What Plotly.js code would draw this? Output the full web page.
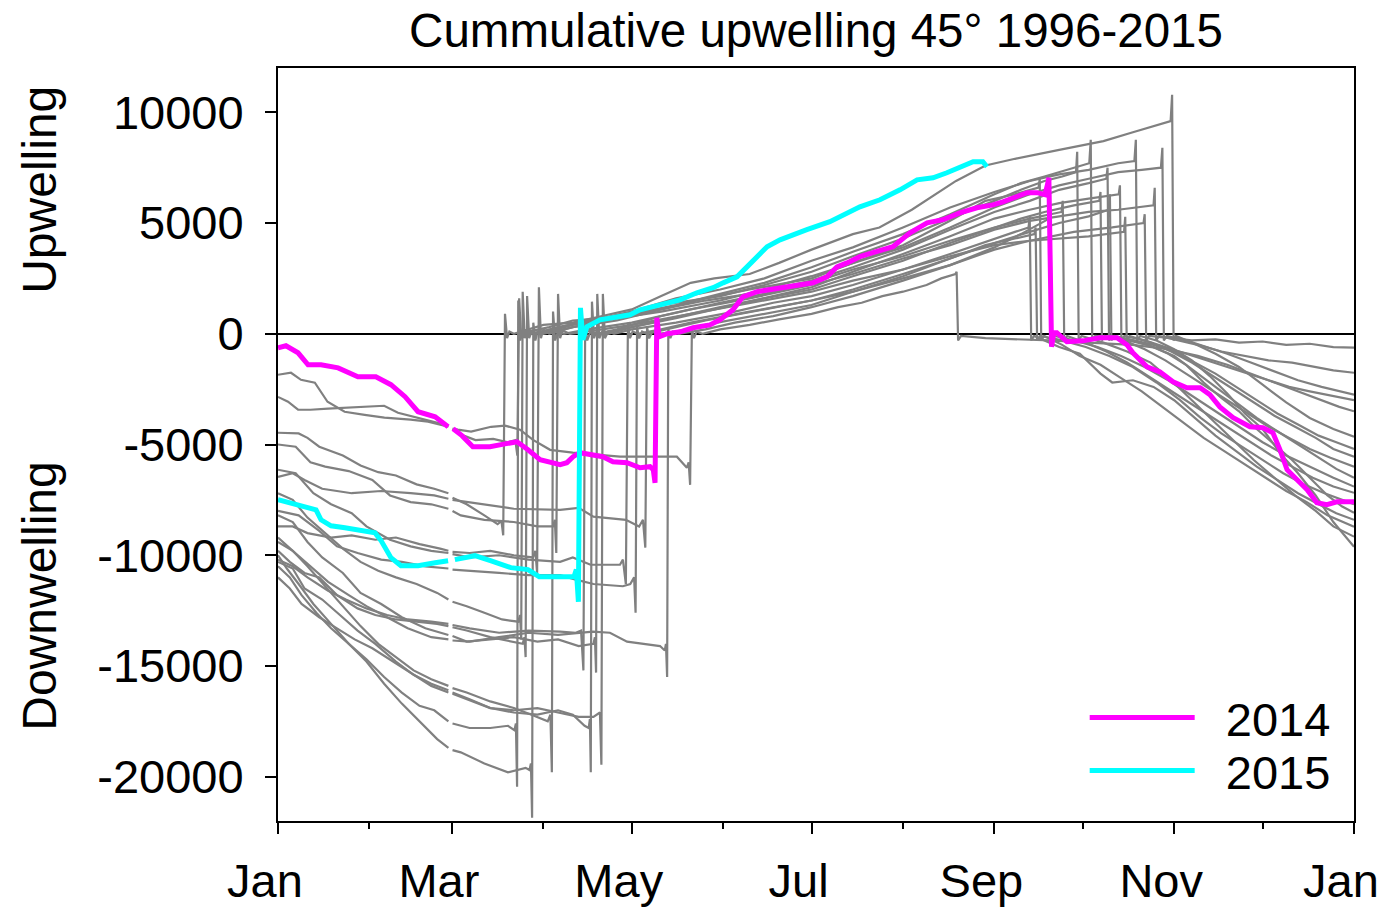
<!DOCTYPE html>
<html>
<head>
<meta charset="utf-8">
<script src="https://cdn.plot.ly/plotly-3.0.1.min.js"></script>
<style>html,body{margin:0;padding:0;background:#fff;}#chart{width:1383px;height:908px;}</style>
</head>
<body>
<div id="chart"></div>
<script>
// x = day of year (0 = 1 Jan), y = cumulative upwelling index; null = missing 29 Feb
const monthTickDays = [0, 59, 120, 181, 243, 304, 365];
const monthTickLabels = ['Jan', 'Mar', 'May', 'Jul', 'Sep', 'Nov', 'Jan'];
const minorTickDays = [31, 90, 151, 212, 273, 334];
const yTickVals = [-20000, -15000, -10000, -5000, 0, 5000, 10000];
const yTickLabels = ['-20000', '-15000', '-10000', '-5000', '0', '5000', '10000'];

const y1996 = [[0,-4470],[7,-4500],[10,-4700],[14,-5100],[22,-5500],[28,-5950],[34,-6250],[40,-6400],[47,-6800],[53,-7000],[57.8,-7200],[58.4,null],[59.2,-7400],[64,-7700],[70,-8200],[74.5,-8600],[75.8,-8450],[76.4,-9100],[77,900],[77.7,-200],[78.5,100],[80,0],[90,400],[100,500],[110,800],[120,1100],[130,1700],[140,2300],[148,2500],[160,2700],[170,3200],[181,3800],[195,4500],[204,4800],[215,5600],[230,6900],[240,7600],[250,7900],[265,8300],[280,8700],[290,9100],[300,9500],[302.8,9600],[303.3,10790],[303.8,-300],[304.6,-100],[310,-400],[318,-900],[326,-1500],[334,-2300],[342,-3100],[350,-3800],[358,-4300],[365,-4650]];
const y1997 = [[0,-10500],[4,-11000],[8,-11800],[13,-12600],[18,-13300],[24,-14000],[30,-14700],[36,-15500],[42,-16200],[48,-16800],[53,-17000],[57.8,-17500],[58.4,null],[59.2,-17600],[65,-17800],[72,-17800],[78,-17700],[80.2,-17900],[80.7,-17600],[81.1,-20450],[81.5,1500],[82.2,-300],[83,200],[85,100],[92,300],[100,600],[110,700],[120,1000],[135,1600],[150,2000],[165,2500],[181,3300],[195,3900],[212,4800],[228,5700],[243,6400],[255,6900],[265,7200],[275,7400],[285,7700],[290.5,7800],[291,8760],[291.5,-300],[292.5,-100],[298,-300],[304,-700],[310,-1200],[316,-1900],[322,-2700],[328,-3600],[334,-4300],[340,-5400],[346,-6300],[352,-7300],[358,-8500],[365,-9620]];
const y1998 = [[0,-2850],[3.4,-3070],[6.8,-3430],[11,-3430],[17,-3380],[22.6,-3340],[31,-3300],[36,-3250],[40.7,-3570],[47.5,-3790],[52,-3930],[57.8,-4150],[58.4,null],[59.2,-4300],[63,-4600],[67,-4800],[73,-4750],[78,-4900],[80.5,-4800],[81.2,-5500],[81.8,1600],[82.5,-200],[83.5,150],[86,0],[95,300],[105,600],[120,900],[135,1300],[150,1800],[165,2300],[181,3000],[195,3700],[212,4500],[228,5400],[243,6300],[252,6800],[260,7100],[268,7400],[275.2,7700],[275.7,8760],[276.2,-300],[277.2,-100],[285,-200],[295,-500],[302,-900],[308,-1400],[314,-2200],[320,-2900],[326,-3500],[332,-4300],[338,-5000],[344,-5700],[350,-6500],[356,-7300],[361,-7800],[365,-8080]];
const y1999 = [[0,-7200],[5,-7500],[10,-8300],[16,-9000],[22,-9700],[28,-10300],[34,-10700],[40,-11000],[47,-11300],[54,-11700],[57.8,-12000],[58.4,null],[59.2,-12100],[64,-12300],[70,-12600],[76,-12900],[81.5,-13000],[82.1,-12700],[82.5,-13800],[83,1900],[83.7,-200],[84.5,200],[87,0],[95,300],[110,700],[130,1300],[150,1700],[165,2200],[181,2800],[195,3500],[212,4300],[228,5200],[243,6000],[252,6500],[260,6900],[266,7100],[270.7,7300],[271.1,8220],[271.6,-300],[272.6,-100],[280,-400],[288,-800],[296,-1300],[303,-2100],[310,-3000],[317,-3900],[324,-4800],[331,-5700],[338,-6500],[345,-7300],[352,-8000],[358,-8700],[365,-9160]];
const y2000 = [[0,-9800],[4,-10300],[9,-10800],[14,-11000],[20,-11800],[27,-12400],[33,-12700],[40,-12900],[47,-13000],[54,-13100],[57.8,-13200],[58.4,null],[59.2,-13250],[64,-13400],[72,-13700],[80,-13900],[83,-14000],[83.6,-13700],[84,-14600],[84.5,1700],[85.2,-200],[86,100],[89,0],[100,400],[115,700],[130,1000],[150,1500],[165,2000],[181,2600],[195,3200],[212,3900],[228,4800],[243,5700],[255,6300],[265,6700],[275,7000],[285,7300],[293,7400],[299.5,7500],[300,8400],[300.5,-300],[301.5,-100],[308,-300],[315,-600],[322,-900],[330,-1300],[338,-1700],[346,-2100],[354,-2400],[360,-2600],[365,-2750]];
const y2001 = [[0,-10000],[3,-10600],[7,-11300],[12,-12200],[18,-13100],[24,-14000],[30,-14800],[36,-15800],[42,-16700],[48,-17500],[54,-18300],[57.8,-18700],[58.4,null],[59.2,-18800],[62,-18900],[70,-19400],[78,-19800],[84,-19600],[85.3,-19700],[85.8,-19400],[86.2,-21850],[86.6,500],[87.3,-300],[88,100],[90,0],[100,300],[115,700],[130,1100],[145,1500],[160,1800],[181,2400],[195,3000],[212,3800],[228,4700],[243,5500],[255,6000],[265,6500],[275,6800],[281,7000],[281.4,7500],[281.9,-300],[282.9,-100],[290,-300],[297,-600],[304,-1000],[311,-1700],[318,-2400],[325,-3100],[332,-3800],[339,-4400],[346,-5000],[353,-5600],[359,-6100],[365,-6500]];
const y2002 = [[0,-8700],[5,-8700],[10,-9000],[18,-9200],[25,-9100],[33,-9300],[40,-9200],[48,-9500],[55,-9700],[57.8,-9800],[58.4,null],[59.2,-9850],[65,-9900],[72,-9800],[80,-10000],[86.5,-10100],[87.3,-9800],[87.9,-10800],[88.5,2100],[89.2,-200],[90,200],[92,0],[100,300],[115,600],[130,1100],[145,1600],[160,2000],[181,2500],[195,3200],[212,4000],[228,5100],[240,6000],[250,6300],[258,6600],[258.4,7000],[258.9,-300],[259.9,-100],[266,-500],[272,-1000],[279,-1400],[286,-2000],[293,-2600],[300,-3300],[307,-4000],[314,-4700],[321,-5300],[328,-5900],[335,-6500],[342,-7100],[349,-7600],[356,-8200],[365,-8710]];
const y2003 = [[0,-9200],[5,-9800],[10,-10500],[16,-11400],[22,-12300],[28,-13200],[34,-14000],[40,-14600],[46,-15200],[52,-15600],[57.8,-15900],[58.4,null],[59.2,-16000],[64,-16200],[72,-16600],[80,-16900],[86,-17200],[91.5,-17500],[92.4,-17200],[92.9,-19800],[93.3,1000],[94,-300],[95,100],[97,0],[105,200],[120,500],[140,1100],[160,1600],[181,2200],[195,2700],[212,3400],[228,4000],[243,4700],[255,5100],[265,5300],[275,5500],[285,5600],[297,5800],[297.4,6590],[297.9,-300],[298.9,-100],[305,-300],[312,-500],[320,-800],[328,-1000],[336,-1200],[344,-1300],[352,-1500],[358,-1650],[365,-1760]];
const y2004 = [[0,-5000],[6,-5100],[11,-5800],[16,-6000],[24,-6200],[32,-6600],[38,-7300],[45,-7600],[52,-7700],[57.8,-7900],[58.4,null],[59.2,-8000],[62,-8200],[70,-8400],[80,-8500],[88,-8700],[93.3,-8700],[93.9,-8400],[94.4,-9900],[95,1800],[95.7,-200],[96.5,150],[99,0],[110,200],[120,400],[140,900],[160,1400],[181,1900],[195,2400],[212,2900],[228,3500],[243,4000],[255,4200],[265,4300],[275,4400],[287,4600],[287.4,5280],[287.9,-300],[288.9,-100],[296,-400],[303,-800],[310,-1300],[317,-1900],[324,-2500],[331,-3100],[338,-3700],[345,-4200],[352,-4700],[358,-5200],[365,-5550]];
const y2005 = [[0,-10200],[5,-10500],[10,-11000],[17,-11600],[23,-12000],[30,-12400],[37,-12700],[44,-12900],[52,-13000],[57.8,-13100],[58.4,null],[59.2,-13150],[65,-13300],[75,-13500],[85,-13400],[95.7,-13450],[101,-13500],[102.8,-13400],[103.6,-15200],[104.2,400],[104.9,-300],[106,100],[108,0],[115,200],[130,800],[150,1400],[165,1800],[181,2300],[195,2900],[212,3500],[228,4200],[243,4800],[255,5200],[265.8,5500],[266.2,6000],[266.7,-300],[267.7,-100],[274,-400],[281,-800],[288,-1300],[295,-1900],[302,-2500],[309,-3100],[316,-3700],[323,-4300],[330,-4900],[337,-5500],[344,-6000],[351,-6500],[358,-6900],[365,-7180]];
const y2006 = [[0,-10300],[5,-10600],[9,-11500],[15,-12000],[21,-12700],[27,-13400],[33,-14000],[40,-14800],[46,-15400],[52,-15800],[57.8,-16100],[58.4,null],[59.2,-16200],[65,-16500],[72,-16900],[80,-17100],[88,-17200],[95,-17000],[100,-17200],[104,-17700],[105.4,-17800],[105.8,-17400],[106.1,-19800],[106.5,1450],[107.2,-200],[108,100],[110,0],[120,300],[130,600],[150,1200],[165,1600],[181,2000],[195,2600],[212,3300],[228,4100],[243,4800],[252,5200],[260,5500],[270,5800],[278.6,6000],[279,6400],[279.5,-300],[280.5,-100],[287,-300],[294,-700],[301,-1200],[308,-1800],[315,-2400],[322,-3000],[329,-3600],[336,-4200],[343,-4700],[350,-5200],[357,-5600],[365,-6000]];
const y2007 = [[0,-8200],[5,-8500],[10,-9400],[15,-10100],[22,-10800],[28,-11700],[35,-12200],[42,-12800],[50,-13300],[57.8,-13600],[58.4,null],[59.2,-13650],[64,-13900],[72,-13800],[80,-13700],[88,-13900],[95,-13800],[102,-14100],[107,-14000],[107.5,-13700],[107.9,-15300],[108.3,1800],[109,-200],[110,100],[112,0],[120,300],[135,700],[155,1300],[168,1700],[181,2100],[195,2800],[212,3600],[228,4400],[243,5200],[255,5600],[265,5900],[275,6100],[285.2,6300],[285.6,6700],[286.1,-300],[287.1,-100],[294,-300],[301,-600],[308,-900],[315,-1200],[322,-1500],[329,-1800],[336,-2100],[343,-2400],[350,-2600],[357,-2800],[365,-3000]];
const y2008 = [[0,-11000],[4,-11500],[8,-12200],[14,-12800],[20,-13300],[26,-13800],[32,-14200],[38,-14700],[45,-15300],[52,-15900],[57.8,-16200],[58.4,null],[59.2,-16250],[64,-16500],[72,-16900],[80,-17000],[88,-16900],[95,-17100],[102,-17300],[107,-17300],[109.2,-17100],[109.7,-19460],[110.2,1800],[110.9,-200],[112,100],[114,0],[120,200],[135,500],[155,1000],[168,1400],[181,1700],[195,2200],[212,2900],[228,3600],[243,4300],[250,4600],[254.6,4800],[255,5280],[255.5,-300],[256.5,-100],[265,-600],[272,-900],[279,-1800],[283,-2200],[290,-2100],[297,-2400],[304,-3000],[311,-3800],[318,-4600],[325,-5300],[332,-6000],[339,-6600],[346,-7200],[353,-7700],[359,-8100],[365,-8400]];
const y2009 = [[0,-6140],[6,-6300],[12,-7200],[18,-7700],[25,-8100],[30,-8700],[38,-9300],[45,-9600],[52,-9800],[57.8,-9900],[58.4,null],[59.2,-9950],[65,-10100],[75,-10000],[85,-10200],[95.7,-10300],[100,-10100],[106,-10430],[116,-10430],[117,-10200],[118,-11300],[118.7,500],[119.4,-200],[120.3,100],[122,0],[130,200],[140,500],[160,1000],[181,1500],[195,1900],[212,2500],[228,3100],[243,3800],[255,4200],[270,4600],[283,4800],[293.6,5000],[294,5400],[294.5,-300],[295.5,-100],[302,-200],[310,-300],[318,-250],[326,-400],[334,-350],[342,-500],[350,-450],[358,-600],[365,-630]];
const y2010 = [[0,-8000],[7,-8200],[14,-8900],[20,-9600],[27,-9900],[35,-10200],[42,-10300],[50,-10500],[57.8,-10600],[58.4,null],[59.2,-10650],[66,-10700],[75,-10800],[85,-10900],[95.7,-10900],[101,-11100],[107,-11300],[117,-11400],[119.5,-11300],[120.8,-11000],[121.3,-12600],[121.8,300],[122.5,-200],[123.5,100],[125,0],[135,300],[145,600],[165,1100],[181,1500],[195,2000],[212,2700],[228,3400],[240,4000],[250,4300],[256.6,4500],[257,4800],[257.5,-300],[258.5,-100],[266,-300],[274,-600],[282,-1000],[290,-1500],[298,-2200],[306,-3000],[313,-3800],[320,-4500],[327,-5100],[334,-5700],[341,-6300],[348,-6800],[355,-7200],[365,-7700]];
const y2011 = [[0,-6460],[5,-6300],[9,-6600],[15,-7000],[25,-7200],[35,-7100],[45,-7200],[53,-7300],[57.8,-7450],[58.4,null],[59.2,-7500],[64,-7600],[70,-7700],[80,-7900],[95.7,-7950],[102,-7860],[107,-8260],[118,-8400],[122.5,-8700],[123.8,-8400],[124.6,-9660],[125.2,300],[125.9,-200],[127,100],[129,0],[135,100],[145,400],[165,900],[181,1300],[195,1900],[212,2600],[228,3400],[243,4100],[255,4600],[265,5000],[275,5300],[281.8,5600],[282.2,6300],[282.7,-300],[283.7,-100],[290,-300],[297,-500],[304,-800],[311,-1300],[318,-1800],[325,-2400],[332,-3000],[339,-3600],[346,-4100],[353,-4600],[359,-4900],[365,-5200]];
const y2012 = [[0,-9400],[5,-9800],[11,-10500],[17,-11200],[24,-11800],[30,-12300],[37,-12800],[44,-13300],[52,-13700],[57.8,-13800],[58.4,null],[59.2,-13850],[65,-13900],[75,-13700],[85,-13500],[95,-13600],[106.8,-13450],[112.6,-13500],[118.4,-13900],[129.6,-14100],[131.2,-14300],[131.6,-14000],[132,-15500],[132.4,200],[133.1,-200],[134,100],[136,0],[145,200],[155,500],[168,800],[181,1200],[195,1700],[212,2400],[228,3100],[243,3900],[252,4500],[261.6,5200],[262,5600],[262.5,-300],[263.5,-100],[270,-300],[278,-600],[286,-1000],[294,-1500],[302,-2100],[310,-2800],[318,-3500],[326,-4200],[334,-4900],[342,-5500],[350,-6000],[358,-6500],[365,-6900]];
const y2013 = [[0,-1850],[4.4,-1760],[7.8,-2080],[12.5,-2210],[16.8,-3070],[22.6,-3520],[29.4,-3660],[36.1,-3790],[45,-3880],[50.9,-3970],[57.8,-4200],[58.4,null],[59.2,-4280],[61,-4330],[65.5,-4420],[72.3,-4200],[77,-4150],[82.1,-4330],[86.5,-4790],[92.3,-5240],[100,-5370],[116,-5550],[135.3,-5550],[138.7,-6050],[139.3,-5800],[139.8,-6820],[140.4,200],[141.1,-200],[142,100],[144,0],[150,200],[160,400],[170,650],[181,900],[190,1200],[198,1400],[205,1700],[212,1900],[220,2200],[225,2500],[229.8,2700],[230.2,2800],[230.7,-300],[231.7,-100],[240,-200],[250,-250],[262,-300],[275,-400],[290,-500],[302,-700],[312,-1000],[322,-1400],[332,-1900],[342,-2400],[352,-2900],[360,-3300],[365,-3500]];
const y2014 = [[0,-630],[2.7,-540],[6.8,-860],[10.2,-1400],[14.6,-1400],[20.4,-1540],[27.1,-1940],[33.2,-1940],[38.3,-2300],[43.1,-2840],[47.5,-3520],[53.3,-3750],[57.7,-4200],[58.4,null],[59.4,-4290],[62.4,-4600],[66.1,-5100],[71.9,-5100],[77,-4970],[81.1,-4880],[84.8,-5240],[88.9,-5690],[95.7,-5910],[98,-5820],[100.1,-5550],[102.4,-5370],[110.2,-5550],[113.6,-5780],[118.4,-5820],[122.8,-6050],[126.2,-6000],[127.3,-6140],[127.9,-6730],[128.5,720],[129.3,-140],[132,0],[136.4,90],[140.8,270],[146.5,400],[149.9,630],[154.3,1080],[157.7,1670],[162.5,1900],[170.3,2080],[176.1,2210],[181.5,2300],[186.2,2570],[189.6,3020],[193,3200],[197.4,3480],[201.8,3660],[208.6,3930],[214.4,4560],[220.2,5010],[225.6,5150],[231.3,5460],[237.1,5690],[242.5,5820],[245.9,5960],[250.7,6190],[254.1,6370],[257.5,6370],[260.2,6280],[261,6730],[261.5,7040],[262.4,-590],[263.2,50],[264.2,50],[267.6,-360],[273.1,-320],[278.8,-180],[284.6,-180],[288,-500],[290,-860],[294.8,-1490],[299.2,-1720],[303.6,-2170],[308.3,-2440],[312.8,-2440],[316.1,-2750],[319.5,-3300],[324,-3790],[329.7,-4200],[334.1,-4240],[337.5,-4470],[339.9,-5240],[342.3,-6140],[345.7,-6590],[349.1,-7040],[352.4,-7630],[355.8,-7720],[359.2,-7590],[365,-7590]];
const y2015 = [[0,-7490],[4.4,-7630],[10.2,-7860],[12.9,-7950],[14.6,-8400],[18,-8670],[22.7,-8760],[28.2,-8900],[32.9,-8990],[35,-9350],[38.3,-10110],[41.7,-10470],[47.5,-10470],[53.3,-10340],[57.7,-10250],[58.4,null],[60,-10200],[66.8,-10020],[72.3,-10250],[79,-10560],[84.8,-10650],[88.6,-10970],[100.4,-10970],[101.2,-10650],[101.9,-12100],[102.6,1170],[103.4,-270],[104.8,320],[109.2,630],[113.6,720],[119.4,860],[122.8,1080],[130.6,1310],[136.4,1530],[142.1,1850],[147.6,2080],[151,2300],[155.7,2570],[159.1,3020],[162.5,3480],[165.9,3930],[170.3,4240],[176.1,4560],[179.4,4700],[187.2,5060],[192.3,5420],[197.4,5730],[204.2,6050],[211,6500],[216.8,6950],[222.2,7040],[226.9,7270],[231.3,7540],[235.8,7770],[239.1,7770],[240.5,7540]];

const greyYears = [y1996, y1997, y1998, y1999, y2000, y2001, y2002, y2003, y2004, y2005, y2006, y2007, y2008, y2009, y2010, y2011, y2012, y2013];

const FONT = 'Liberation Sans, Arial, Helvetica, sans-serif';
const NB = '\u00a0\u00a0';

function toTrace(series, name, color, width, showlegend, legendId) {
  const t = {
    type: 'scatter', mode: 'lines',
    x: series.map(p => p[0]), y: series.map(p => p[1]),
    name: name, showlegend: showlegend, connectgaps: false,
    line: {color: color, width: width}, hoverinfo: 'skip'
  };
  if (legendId) t.legend = legendId;
  return t;
}

const traces = greyYears.map((s, i) => toTrace(s, String(1996 + i), '#808080', 2.2, false));
traces.push(toTrace(y2014, NB + '2014', '#FF00FF', 5, true, 'legend'));
traces.push(toTrace(y2015, NB + '2015', '#00FFFF', 5, true, 'legend2'));

const legendBase = {xanchor: 'left', yanchor: 'middle', bgcolor: 'rgba(0,0,0,0)', borderwidth: 0,
                    font: {family: FONT, size: 47, color: '#000000'}, itemwidth: 105};

const layout = {
  width: 1383, height: 908,
  paper_bgcolor: '#ffffff', plot_bgcolor: '#ffffff',
  margin: {l: 278, r: 29, t: 68, b: 87},
  font: {family: FONT, color: '#000000', size: 47},
  title: {text: 'Cummulative upwelling 45° 1996-2015', font: {family: FONT, size: 47.5, color: '#000000'},
          x: 0.5, xref: 'paper', xanchor: 'center', y: 0.967, yref: 'container', yanchor: 'middle'},
  showlegend: true,
  legend: Object.assign({x: 0.7497, y: 0.1368}, legendBase),
  legend2: Object.assign({x: 0.7497, y: 0.0664}, legendBase),
  xaxis: {
    range: [0, 365], tickmode: 'array', tickvals: monthTickDays, ticktext: monthTickLabels,
    ticks: 'outside', ticklen: 11, tickwidth: 2, tickcolor: '#000000', ticklabelstandoff: 7,
    ticklabelshift: -13, ticklabeloverflow: 'allow',
    minor: {tickmode: 'array', tickvals: minorTickDays, ticks: 'outside', ticklen: 6, tickwidth: 2, tickcolor: '#000000', showgrid: false},
    showline: true, linecolor: '#000000', linewidth: 2, mirror: true,
    showgrid: false, zeroline: false, tickfont: {family: FONT, size: 47, color: '#000000'}
  },
  yaxis: {
    range: [-22000, 12000], tickmode: 'array', tickvals: yTickVals, ticktext: yTickLabels,
    ticks: 'outside', ticklen: 11, tickwidth: 2, tickcolor: '#000000', ticklabelstandoff: 12,
    showline: true, linecolor: '#000000', linewidth: 2, mirror: true,
    showgrid: false, zeroline: true, zerolinecolor: '#000000', zerolinewidth: 2,
    tickfont: {family: FONT, size: 47, color: '#000000'}
  },
  annotations: [
    {text: 'Upwelling', xref: 'paper', yref: 'y', x: -0.2212, y: 6500, xanchor: 'center', yanchor: 'middle',
     textangle: -90, showarrow: false, font: {family: FONT, size: 48, color: '#000000'}},
    {text: 'Downwelling', xref: 'paper', yref: 'y', x: -0.2212, y: -11830, xanchor: 'center', yanchor: 'middle',
     textangle: -90, showarrow: false, font: {family: FONT, size: 48, color: '#000000'}}
  ]
};

Plotly.newPlot('chart', traces, layout, {displayModeBar: false, staticPlot: true});
</script>
</body>
</html>
